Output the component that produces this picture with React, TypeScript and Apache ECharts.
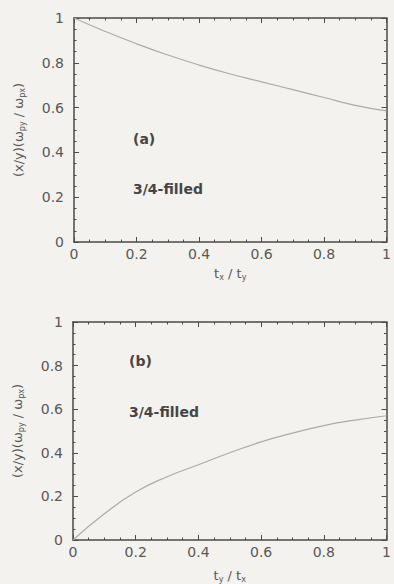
import React, { useEffect, useRef } from "react";
import * as echarts from "echarts";

const xValues = [0, 0.1, 0.2, 0.3, 0.4, 0.5, 0.6, 0.7, 0.8, 0.9, 1.0];
const curveA = [1.0, 0.94, 0.885, 0.835, 0.79, 0.75, 0.715, 0.68, 0.645, 0.61, 0.585];
const curveB = [0.0, 0.12, 0.22, 0.29, 0.345, 0.4, 0.45, 0.49, 0.525, 0.55, 0.57];
const panelLabels = ["(a)", "(b)"];
const fillingLabel = "3/4-filled";

const axisColor = "#4a4a4a";
const textColor = "#585858";
const font = "DejaVu Sans, Arial, sans-serif";

export default function App() {
  const ref = useRef<HTMLDivElement>(null);
  useEffect(() => {
    if (!ref.current) return;
    const chart = echarts.init(ref.current, null, { renderer: "svg" });
    const sub = { fontSize: 8, color: textColor, fontFamily: font, verticalAlign: "bottom", padding: [8, 0, 0, 0] };
    const main = { fontSize: 13, color: textColor, fontFamily: font };
    const grids = [
      { left: 74, top: 18, width: 316, height: 224 },
      { left: 73, top: 322, width: 316, height: 226 },
    ];
    const baseAxis = (gridIndex: number, show: boolean, margin: number) => ({
      gridIndex,
      type: "value",
      min: 0,
      max: 1,
      interval: 0.2,
      axisLine: { show: true, onZero: false, lineStyle: { color: axisColor, width: 1.5 } },
      axisTick: { show: true, inside: true, length: 5, lineStyle: { color: axisColor, width: 1 } },
      minorTick: { show: true, splitNumber: 4, length: 2.5, lineStyle: { color: axisColor, width: 1 } },
      splitLine: { show: false },
      axisLabel: { show, color: textColor, fontSize: 14, fontFamily: font, margin },
    });
    const xNames = [
      "{m|t}{s|x}{m| / t}{s|y}",
      "{m|t}{s|y}{m| / t}{s|x}",
    ];
    const yName = "{m|(x/y)(ω}{s|py}{m| / ω}{s|px}{m|)}";
    const xAxis: any[] = [];
    const yAxis: any[] = [];
    [0, 1].forEach((g) => {
      xAxis.push({
        ...baseAxis(g, true, 5),
        position: "bottom",
        name: xNames[g],
        nameLocation: "middle",
        nameGap: g === 0 ? 23 : 27,
        nameTextStyle: { rich: { m: main, s: sub } },
      });
      xAxis.push({ ...baseAxis(g, false, 5), position: "top" });
      yAxis.push({
        ...baseAxis(g, true, 10),
        position: "left",
        name: yName,
        nameLocation: "middle",
        nameRotate: 90,
        nameGap: 48,
        nameTextStyle: { rich: { m: main, s: sub } },
      });
      yAxis.push({ ...baseAxis(g, false, 5), position: "right" });
    });
    const series = [curveA, curveB].map((c, i) => ({
      type: "line",
      xAxisIndex: i * 2,
      yAxisIndex: i * 2,
      data: xValues.map((x, k) => [x, c[k]]),
      smooth: true,
      showSymbol: false,
      lineStyle: { color: "#ababab", width: 1.2 },
    }));
    const labelStyle = { fill: "#454545", font: `bold 14px ${font}` };
    chart.setOption({
      animation: false,
      backgroundColor: "#f4f2ee",
      grid: grids,
      xAxis,
      yAxis,
      series,
      graphic: [
        { type: "text", left: 133, top: 132, style: { text: panelLabels[0], ...labelStyle } },
        { type: "text", left: 133, top: 182, style: { text: fillingLabel, ...labelStyle } },
        { type: "text", left: 129, top: 354, style: { text: panelLabels[1], ...labelStyle } },
        { type: "text", left: 129, top: 405, style: { text: fillingLabel, ...labelStyle } },
      ],
    });
    return () => chart.dispose();
  }, []);
  return (
    <div
      ref={ref}
      style={{ position: "fixed", left: 0, top: 0, width: 394, height: 584 }}
    />
  );
}
